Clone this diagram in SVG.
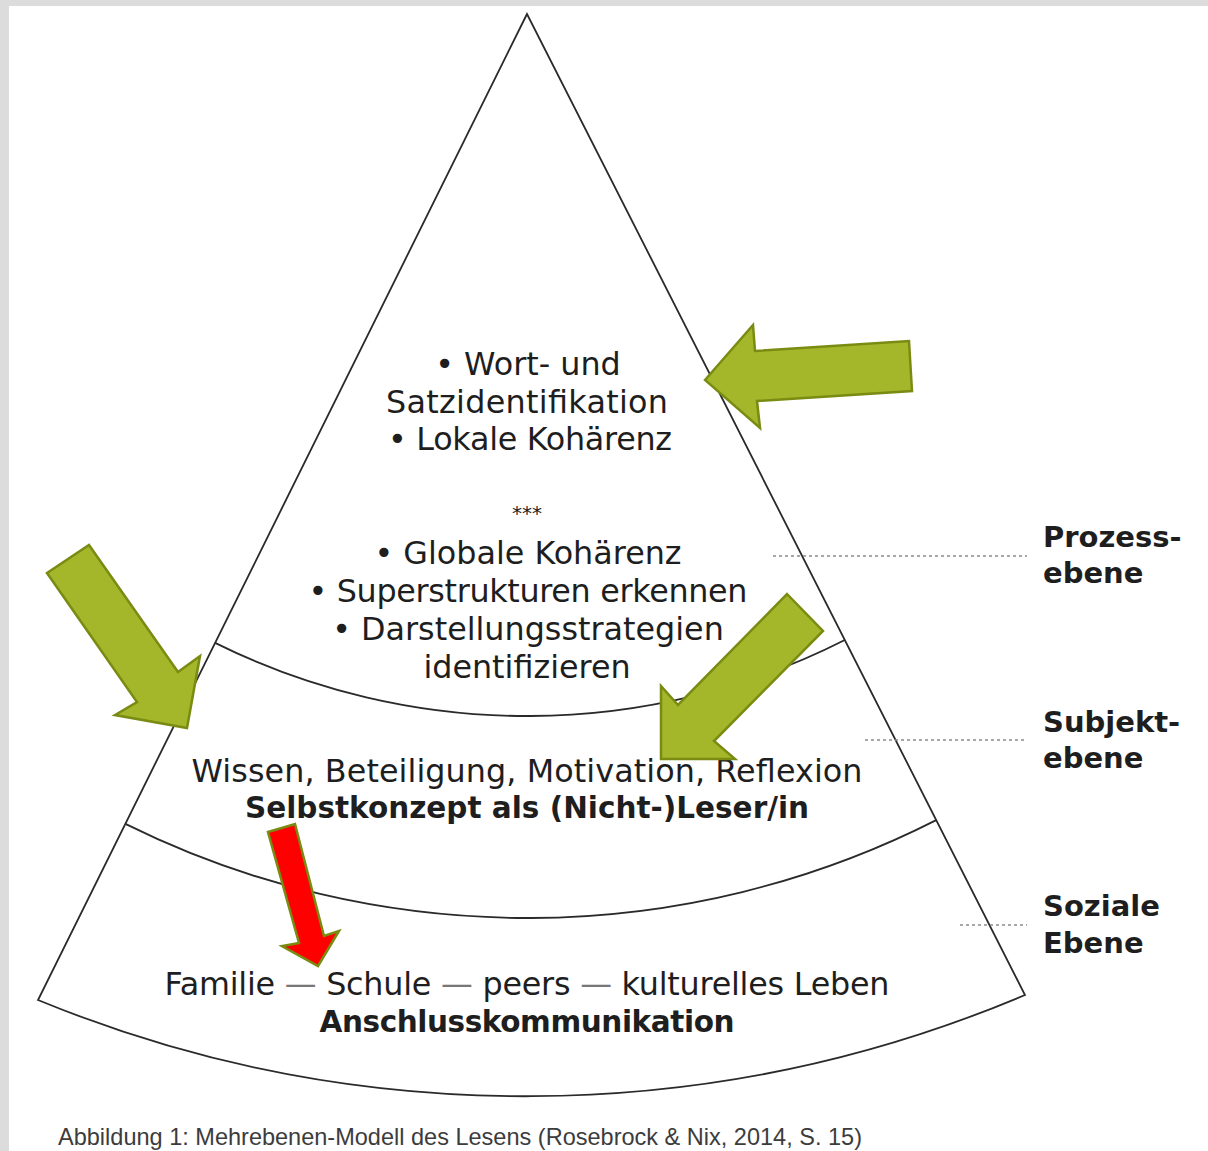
<svg xmlns="http://www.w3.org/2000/svg" width="1208" height="1151" viewBox="0 0 1208 1151">
  <style>
    .edge { fill: none; stroke: #2a2a2a; stroke-width: 1.8; }
    .dots { fill: none; stroke: #8a8a8a; stroke-width: 1.6; stroke-dasharray: 3 3; }
    .txt { font-family: "DejaVu Sans", Verdana, sans-serif; font-size: 31.8px; fill: #1e1e1e; text-anchor: middle; }
    .bold { font-family: "DejaVu Sans", Verdana, sans-serif; font-size: 29.5px; font-weight: bold; fill: #1e1e1e; text-anchor: middle; }
    .lab { font-family: "DejaVu Sans", Verdana, sans-serif; font-size: 29px; font-weight: bold; fill: #1e1e1e; }
    .green { fill: #a4b62a; stroke: #7a8b12; stroke-width: 2.5; stroke-linejoin: miter; }
    .red { fill: #ff0000; stroke: #7a8b12; stroke-width: 2.5; stroke-linejoin: miter; }
    .cap { font-family: "Liberation Sans", Arial, sans-serif; font-size: 24px; fill: #3c3c3c; }
  </style>
  <rect x="0" y="0" width="1208" height="1151" fill="#ffffff"/>
  <rect x="0" y="0" width="1208" height="6" fill="#dcdcdc"/>
  <rect x="0" y="0" width="9" height="1151" fill="#dcdcdc"/>

  <g id="pyramid">
    <path class="edge" d="M527,14 L38,1000 A1283,1283 0 0 0 1025,995 Z"/>
    <path class="edge" d="M215.1,642.9 A702,702 0 0 0 844.8,640"/>
    <path class="edge" d="M125.4,823.9 A904,904 0 0 0 936.2,820.1"/>
  </g>

  <g id="connectors">
    <line class="dots" x1="773" y1="556" x2="1027" y2="556"/>
    <line class="dots" x1="865" y1="740" x2="1027" y2="740"/>
    <line class="dots" x1="960" y1="925" x2="1027" y2="925"/>
  </g>

  <g id="prozess-content">
    <text class="txt" x="528" y="375">• Wort- und</text>
    <text class="txt" x="527" y="413" textLength="282">Satzidentifikation</text>
    <text class="txt" x="530" y="450" textLength="284">• Lokale Kohärenz</text>
    <text class="txt" x="527" y="520" style="font-size:20px">***</text>
    <text class="txt" x="528" y="564">• Globale Kohärenz</text>
    <text class="txt" x="528" y="602" textLength="439">• Superstrukturen erkennen</text>
    <text class="txt" x="528" y="640">• Darstellungsstrategien</text>
    <text class="txt" x="527" y="678">identifizieren</text>
  </g>

  <g id="subjekt-content">
    <text class="txt" x="527" y="782" textLength="671">Wissen, Beteiligung, Motivation, Reflexion</text>
    <text class="bold" x="527" y="818">Selbstkonzept als (Nicht-)Leser/in</text>
  </g>

  <g id="soziale-content">
    <text class="txt" x="527" y="995" textLength="725">Familie <tspan fill="#777">—</tspan> Schule <tspan fill="#777">—</tspan> peers <tspan fill="#777">—</tspan> kulturelles Leben</text>
    <text class="bold" x="527" y="1032" textLength="415">Anschlusskommunikation</text>
  </g>

  <g id="label-prozess">
    <text class="lab" x="1043" y="547">Prozess-</text>
    <text class="lab" x="1043" y="583">ebene</text>
  </g>
  <g id="label-subjekt">
    <text class="lab" x="1043" y="732">Subjekt-</text>
    <text class="lab" x="1043" y="768">ebene</text>
  </g>
  <g id="label-soziale">
    <text class="lab" x="1043" y="916">Soziale</text>
    <text class="lab" x="1043" y="953">Ebene</text>
  </g>

  <g id="arrows">
    <polygon id="arrow-top" class="green" points="705,380 753,325 755,351 909,341 912,391 757,401 760,428"/>
    <polygon id="arrow-left" class="green" points="47,573 89,545 178,672 200,656 187,728 115,715 137,702"/>
    <polygon id="arrow-right" class="green" points="787,594 823,631 714,741 735,759 661,759 661,686 678,705"/>
    <polygon id="arrow-red" class="red" points="268,832 295,824 324,936 339,931 318,966 282,946 299,943"/>
  </g>

  <g id="caption">
    <text class="cap" x="58" y="1145" textLength="804" lengthAdjust="spacingAndGlyphs">Abbildung 1: Mehrebenen-Modell des Lesens (Rosebrock &amp; Nix, 2014, S. 15)</text>
  </g>
</svg>
